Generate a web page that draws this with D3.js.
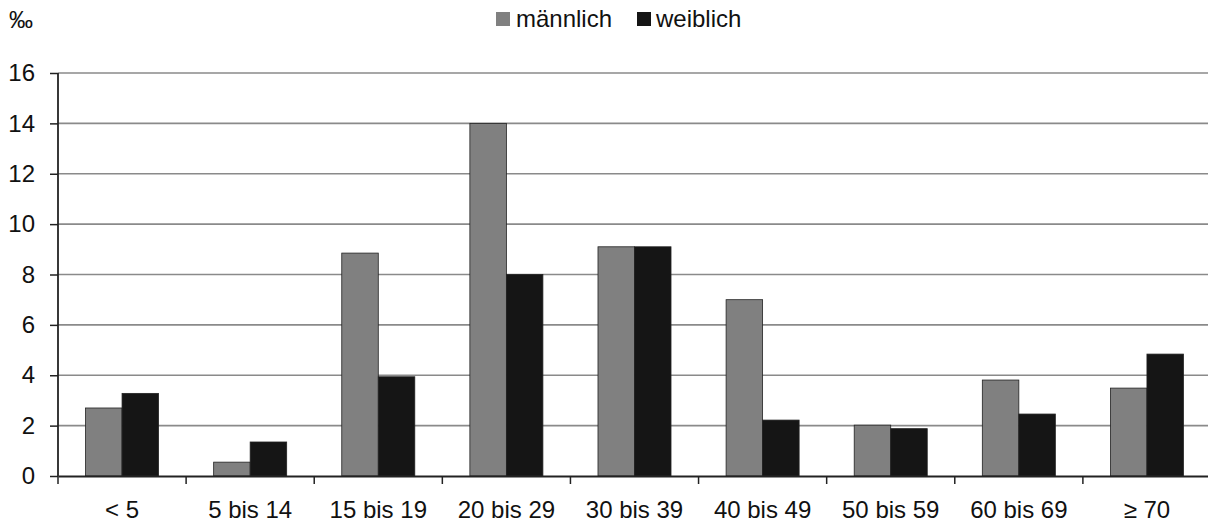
<!DOCTYPE html>
<html>
<head>
<meta charset="utf-8">
<script src="https://cdn.jsdelivr.net/npm/d3@7"></script>
<style>
  body { margin: 0; background: #fff; }
  svg { display: block; font-family: "Liberation Sans", Arial, sans-serif; }
</style>
</head>
<body>
<svg id="chart" width="1208" height="522"></svg>
<script>
var categories = ["< 5", "5 bis 14", "15 bis 19", "20 bis 29", "30 bis 39", "40 bis 49", "50 bis 59", "60 bis 69", "\u2265 70"];
var maennlich = [2.7, 0.55, 8.85, 14.0, 9.1, 7.0, 2.02, 3.81, 3.49];
var weiblich = [3.28, 1.35, 3.94, 8.0, 9.1, 2.22, 1.88, 2.46, 4.84];
var yTicks = [0, 2, 4, 6, 8, 10, 12, 14, 16];
var seriesNames = ["männlich", "weiblich"];
var seriesColors = ["#808080", "#151515"];

var svg = d3.select("#chart");
var plotLeft = 58, plotRight = 1211, plotTop = 73, plotBottom = 476;

var x = d3.scaleBand().domain(categories).range([plotLeft, plotRight]);
var y = d3.scaleLinear().domain([0, 16]).range([plotBottom, plotTop]);
var barW = x.bandwidth() * 0.285;

// grid
svg.append("g").selectAll("line")
  .data(yTicks.filter(function(d) { return d > 0; }))
  .enter().append("line")
    .attr("x1", plotLeft).attr("x2", 1208)
    .attr("y1", function(d) { return y(d); })
    .attr("y2", function(d) { return y(d); })
    .attr("stroke", "#8a8a8a").attr("stroke-width", 1.6);

// bars
var series = [maennlich, weiblich];
series.forEach(function(vals, s) {
  svg.append("g").selectAll("rect")
    .data(vals).enter().append("rect")
      .attr("x", function(d, i) { return x(categories[i]) + x.bandwidth() / 2 - barW + s * barW; })
      .attr("y", function(d) { return y(d); })
      .attr("width", barW)
      .attr("height", function(d) { return y(0) - y(d); })
      .attr("fill", seriesColors[s])
      .attr("stroke", "#222").attr("stroke-width", 0.8);
});

// y axis
var yAxis = svg.append("g")
  .attr("transform", "translate(" + plotLeft + ",0)")
  .call(d3.axisLeft(y).tickValues(yTicks).tickSize(8).tickPadding(15));
yAxis.select(".domain").attr("stroke", "#222").attr("stroke-width", 1.8)
  .attr("d", "M0," + plotTop + "V" + plotBottom);
yAxis.selectAll(".tick line").attr("stroke", "#222").attr("stroke-width", 1.5);
yAxis.selectAll(".tick text").attr("font-size", 24).attr("fill", "#111")
  .attr("font-family", "Liberation Sans, Arial, sans-serif");

// x axis
var xAxis = svg.append("g")
  .attr("transform", "translate(0," + plotBottom + ")")
  .call(d3.axisBottom(x).tickSize(0).tickPadding(25));
xAxis.select(".domain").attr("stroke", "#222").attr("stroke-width", 1.8);
xAxis.selectAll(".tick text").attr("font-size", 24).attr("fill", "#111")
  .attr("font-family", "Liberation Sans, Arial, sans-serif");
svg.append("g").selectAll("line")
  .data(d3.range(categories.length + 1))
  .enter().append("line")
    .attr("x1", function(i) { return plotLeft + i * x.step(); })
    .attr("x2", function(i) { return plotLeft + i * x.step(); })
    .attr("y1", plotBottom).attr("y2", plotBottom + 8)
    .attr("stroke", "#222").attr("stroke-width", 1.5);

// unit
svg.append("text").attr("x", 9).attr("y", 28)
  .attr("font-size", 24).attr("fill", "#111").text("‰");

// legend
var legendX = [496, 637];
seriesNames.forEach(function(n, i) {
  svg.append("rect").attr("x", legendX[i]).attr("y", 12)
    .attr("width", 14).attr("height", 14).attr("fill", seriesColors[i]);
  svg.append("text").attr("x", legendX[i] + (i === 0 ? 20 : 19)).attr("y", 27)
    .attr("font-size", 24).attr("fill", "#111").text(n);
});
</script>
</body>
</html>
